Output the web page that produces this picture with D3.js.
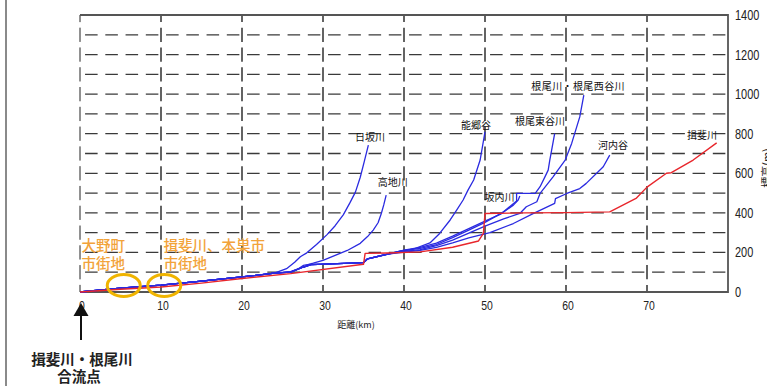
<!DOCTYPE html>
<html>
<head>
<meta charset="utf-8">
<script src="https://cdn.jsdelivr.net/npm/d3@7/dist/d3.min.js"></script>
<style>
  html, body { margin: 0; padding: 0; background: #fff; }
  svg { display: block; }
  .tick text { font-family: "Liberation Sans Narrow", "Liberation Sans", sans-serif; fill: #222; }
  .jp { font-family: "Noto Sans CJK JP", "Noto Sans CJK SC", sans-serif; }
</style>
</head>
<body>
<svg id="chart" width="767" height="386"></svg>
<script>
// Longitudinal profiles of the Ibi river system: distance (km) vs elevation (m)
const xTicks = [0, 10, 20, 30, 40, 50, 60, 70];
const yTicks = [0, 200, 400, 600, 800, 1000, 1200, 1400];
const gridLevels = [100, 200, 300, 400, 500, 600, 700, 800, 900, 1000, 1100, 1200, 1300];

// 揖斐川 main stem
const ibiRiver = [[0,0],[5,14],[10,25],[15,45],[20,68],[26,93],[35,140],[35.2,195],[38,197],[42,203],[46,226],[49.2,258],[49.8,296],[50,397],[55,400],[60,401],[65.4,405],[68.7,475],[70,530],[72.4,600],[73,603],[75.7,667],[78.6,754]];

// Shared lower course of the 根尾川 branch lines
const trunkLower = [[0,0],[5,20],[10,35],[15,55],[20,76],[24,95]];
const trunkUpper = [[26,100],[27.5,125],[28.5,138],[31,142],[35,148],[35.5,168],[38,192]];

const hisakaRiver = [[25.5,118],[26.5,150],[27.2,178],[28,198],[29.2,240],[30.5,290],[31.5,335],[32.5,390],[33.3,449],[34,505],[34.6,580],[35.1,660],[35.6,742]];
const takachiRiver = [[26,103],[27,118],[27.6,135],[28.2,140],[28.8,146],[30,160],[31.5,185],[33,210],[34.6,246],[35.5,280],[36.2,313],[36.8,350],[37.2,397],[37.5,440],[37.8,490]];
const nogoValley = [[39.5,206],[41.1,216],[43.2,248],[44.4,296],[45.7,364],[46.5,414],[47.3,465],[47.9,515],[48.6,566],[49.4,667],[50,810]];
const sakauchiRiver = [[40,210],[42,220],[44,240],[46,275],[48,313],[50,352],[52.3,405],[53.5,439],[54.1,465],[54.3,485]];
const neoEastValley = [[40,212],[42,225],[44,247],[46,282],[48,320],[50,358],[52,395],[53.3,440],[53.9,460],[53.9,498],[56.2,498],[56.8,532],[57.4,582],[57.8,616],[58,667],[58.6,801]];
const neoWestValley = [[40,205],[42,214],[44,234],[46,262],[48,298],[50,333],[52.3,370],[54.3,397],[55.1,431],[56.4,456],[56.8,498],[58.4,582],[59,616],[59.9,667],[60.7,751],[61.7,885],[62.2,995]];
const kochiValley = [[40,202],[42,210],[44,226],[46,248],[48,273],[50.6,300],[53.5,346],[56,397],[58.6,448],[58.7,472],[60.1,498],[61.7,523],[62.5,549],[64.6,633],[65.4,692]];

const blueSeries = [
  trunkLower.concat(hisakaRiver),
  trunkLower.concat(takachiRiver),
  trunkLower.concat(trunkUpper, nogoValley),
  trunkLower.concat(trunkUpper, sakauchiRiver),
  trunkLower.concat(trunkUpper, neoEastValley),
  trunkLower.concat(trunkUpper, neoWestValley),
  trunkLower.concat(trunkUpper, kochiValley)
];

// River name labels: [name, km, m] anchoring point near each headwater
const riverLabels = [
  ["日坂川", 35.8, 765],
  ["高地川", 38.6, 535],
  ["能郷谷", 48.9, 825],
  ["根尾東谷川", 56.8, 845],
  ["根尾川・根尾西谷川", 61.5, 1020],
  ["河内谷", 65.8, 725],
  ["坂内川", 51.8, 460],
  ["揖斐川", 76.8, 775]
];

const svg = d3.select("#chart");
const x = d3.scaleLinear().domain([0, 80]).range([80, 728]);
const y = d3.scaleLinear().domain([0, 1400]).range([292, 15]);

svg.append("rect").attr("width", 767).attr("height", 386).attr("fill", "#fff");

// page frame line on the left
svg.append("line").attr("x1", 6).attr("x2", 6).attr("y1", 0).attr("y2", 386)
  .attr("stroke", "#8a8a8a").attr("stroke-width", 2);

// horizontal dashed grid
const hPeriod = (x(10) - x(0)) / 4;
svg.append("g").selectAll("line").data(gridLevels).join("line")
  .attr("x1", x(0)).attr("x2", x(80))
  .attr("y1", d => y(d)).attr("y2", d => y(d))
  .attr("stroke", "#3a3a3a").attr("stroke-width", 1.3)
  .attr("stroke-dasharray", `${hPeriod * 0.62},${hPeriod * 0.38}`)
  .attr("stroke-dashoffset", -hPeriod * 0.25);

// vertical dashed grid
const vPeriod = y(0) - y(100);
svg.append("g").selectAll("line").data(xTicks).join("line")
  .attr("x1", d => x(d)).attr("x2", d => x(d))
  .attr("y1", y(0)).attr("y2", y(1400))
  .attr("stroke", "#222").attr("stroke-width", d => d === 0 ? 1 : 1.4)
  .attr("stroke-dasharray", `${vPeriod * 0.72},${vPeriod * 0.28}`)
  .attr("stroke-dashoffset", vPeriod * 0.36);

// plot frame: top, right, bottom
svg.append("path")
  .attr("d", `M${x(0)},${y(1400)}H${x(80)}V${y(0)}H${x(0)}`)
  .attr("fill", "none").attr("stroke", "#555").attr("stroke-width", 1.8);

// axes (narrow digits via textLength)
const xAxis = svg.append("g").attr("transform", `translate(0,${y(0)})`)
  .call(d3.axisBottom(x).tickValues(xTicks).tickFormat(d3.format("d")).tickSize(0).tickPadding(9));
xAxis.select(".domain").remove();
xAxis.selectAll("text").attr("font-size", 13).attr("dx", 1.5)
  .attr("textLength", d => String(d).length * 5.8).attr("lengthAdjust", "spacingAndGlyphs");

const yAxis = svg.append("g").attr("transform", `translate(${x(80)},0)`)
  .call(d3.axisRight(y).tickValues(yTicks).tickFormat(d3.format("d")).tickSize(0).tickPadding(7));
yAxis.select(".domain").remove();
yAxis.selectAll("text").attr("font-size", 14)
  .attr("textLength", d => String(d).length * 6.1).attr("lengthAdjust", "spacingAndGlyphs");

svg.append("text").attr("class", "jp")
  .attr("x", 356).attr("y", 328).attr("text-anchor", "middle")
  .attr("font-size", 9).attr("fill", "#222").text("距離(km)");

svg.append("text").attr("class", "jp")
  .attr("transform", "translate(771,168) rotate(-90)")
  .attr("text-anchor", "middle").attr("font-size", 11).attr("fill", "#222")
  .text("標高(m)");

// profile lines
const line = d3.line().x(d => x(d[0])).y(d => y(d[1]));
svg.append("g").selectAll("path").data(blueSeries).join("path")
  .attr("d", line).attr("fill", "none")
  .attr("stroke", "#2a2ae0").attr("stroke-width", 1.3).attr("stroke-linejoin", "round");
svg.append("path").datum(ibiRiver).attr("d", line).attr("fill", "none")
  .attr("stroke", "#e8262c").attr("stroke-width", 1.4).attr("stroke-linejoin", "round");

// river labels
svg.append("g").selectAll("text").data(riverLabels).join("text")
  .attr("class", "jp")
  .attr("x", d => x(d[1])).attr("y", d => y(d[2]))
  .attr("text-anchor", "middle").attr("font-size", 10).attr("fill", "#111")
  .attr("letter-spacing", d => d[0].length > 5 ? 0.4 : 0)
  .text(d => d[0]);

// town areas
const townColor = "#f2a33a";
const townLabels = [["大野町", "市街地", 0.2], ["揖斐川、本巣市", "市街地", 10.3]];
const tl = svg.append("g").attr("class", "jp").attr("font-size", 14.5)
  .attr("font-weight", 500).attr("fill", townColor);
townLabels.forEach(t => {
  tl.append("text").attr("x", x(t[2])).attr("y", 251).text(t[0]);
  tl.append("text").attr("x", x(t[2])).attr("y", 269).text(t[1]);
});
const townRings = [5.4, 10.4];
svg.append("g").selectAll("ellipse").data(townRings).join("ellipse")
  .attr("cx", d => x(d)).attr("cy", 285.5)
  .attr("rx", 16.5).attr("ry", 11)
  .attr("fill", "none").attr("stroke", "#f0b400").attr("stroke-width", 3);

// confluence marker
svg.append("line").attr("x1", x(0) + 1).attr("x2", x(0) + 1).attr("y1", 312).attr("y2", 340)
  .attr("stroke", "#111").attr("stroke-width", 2);
svg.append("path")
  .attr("d", `M${x(0) + 1},303L${x(0) + 8.5},316L${x(0) - 6.5},316Z`).attr("fill", "#111");
svg.append("text").attr("class", "jp").attr("x", 82).attr("y", 365)
  .attr("text-anchor", "middle").attr("font-size", 14.5).attr("font-weight", 700)
  .attr("fill", "#222").text("揖斐川・根尾川");
svg.append("text").attr("class", "jp").attr("x", 79).attr("y", 382)
  .attr("text-anchor", "middle").attr("font-size", 14.5).attr("font-weight", 700)
  .attr("fill", "#222").text("合流点");
</script>
</body>
</html>
